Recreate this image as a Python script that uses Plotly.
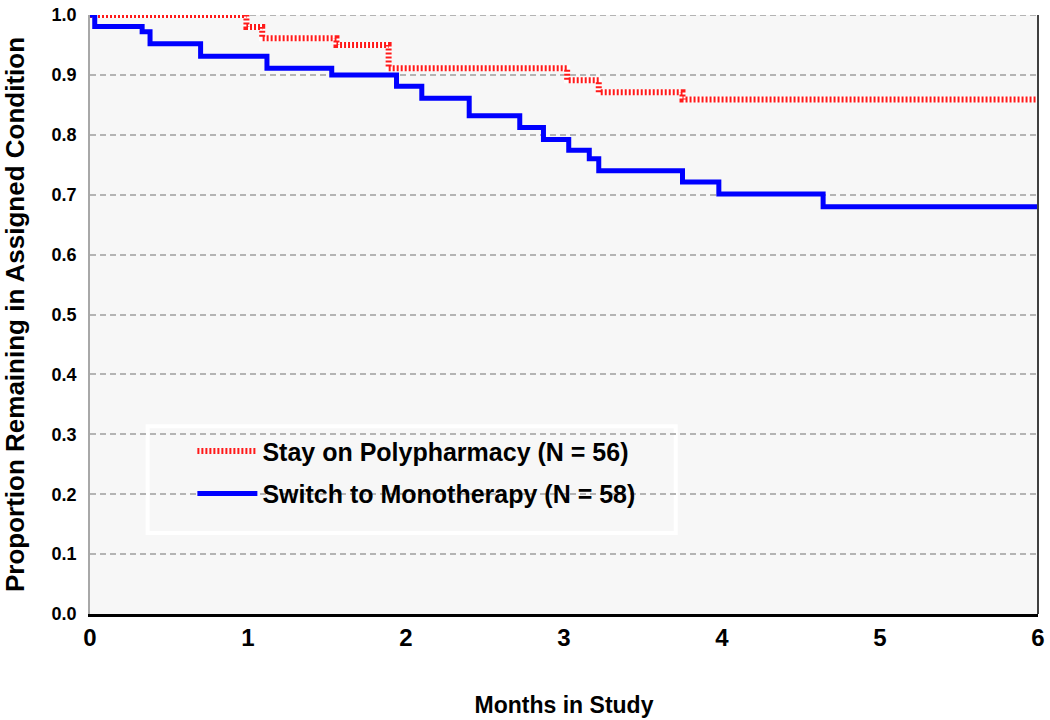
import plotly.graph_objects as go

# Kaplan-Meier style step data (month, proportion remaining)
poly_months = [0, 0.99, 1.09, 1.56, 1.89, 3.02, 3.22, 3.75, 6.0]
poly_prop = [1.0, 0.980, 0.961, 0.950, 0.911, 0.891, 0.871, 0.859, 0.859]

mono_months = [0, 0.03, 0.33, 0.38, 0.70, 1.12, 1.53, 1.94, 2.10, 2.40, 2.72,
               2.87, 3.03, 3.16, 3.22, 3.75, 3.98, 4.64, 6.0]
mono_prop = [1.0, 0.981, 0.972, 0.952, 0.931, 0.911, 0.900, 0.881, 0.861, 0.832, 0.812,
             0.792, 0.774, 0.760, 0.740, 0.721, 0.701, 0.680, 0.680]

poly_name = "Stay on Polypharmacy (N = 56)"
mono_name = "Switch to Monotherapy (N = 58)"

x_ticks = [0, 1, 2, 3, 4, 5, 6]
y_ticks = [0.0, 0.1, 0.2, 0.3, 0.4, 0.5, 0.6, 0.7, 0.8, 0.9, 1.0]

FONT = "Liberation Sans, Arial, sans-serif"
GRID = "#b4b4b4"

fig = go.Figure()
fig.add_trace(go.Scatter(x=poly_months, y=poly_prop, mode="lines", line_shape="hv",
                         line=dict(color="#ffffff", width=6), showlegend=False,
                         hoverinfo="skip"))
fig.add_trace(go.Scatter(x=poly_months, y=poly_prop, mode="lines", line_shape="hv",
                         name=poly_name, legendgroup="a",
                         line=dict(color="#ff1a1a", width=6, dash="2px,2px")))
fig.add_trace(go.Scatter(x=mono_months, y=mono_prop, mode="lines", line_shape="hv",
                         name=mono_name, legendgroup="b",
                         line=dict(color="#0000ff", width=5)))

fig.update_layout(
    width=1050, height=720,
    margin=dict(l=90, r=5, t=8, b=106),
    paper_bgcolor="white", plot_bgcolor="#f7f7f7",
    font=dict(family=FONT, color="black"),
    showlegend=True,
    legend=dict(x=0.108, y=0.3102, xanchor="left", yanchor="top",
                bgcolor="rgba(0,0,0,0)", borderwidth=0,
                font=dict(size=25, family=FONT, color="black", weight="bold"),
                tracegroupgap=7, itemwidth=60),
    xaxis=dict(range=[0, 6], tickvals=x_ticks, ticktext=[f"<b>{v}</b>" for v in x_ticks],
               tickfont=dict(size=24), showgrid=False, zeroline=False,
               showline=True, linecolor="black", linewidth=3, ticks="",
               ticklabelstandoff=0, ticklabeloverflow="allow",
               title=dict(text="<b>Months in Study</b>", font=dict(size=23), standoff=48)),
    yaxis=dict(range=[0, 1.0], tickvals=y_ticks,
               ticktext=[f"<b>{v:.1f}</b>" for v in y_ticks],
               tickfont=dict(size=18), showgrid=True, gridcolor=GRID, gridwidth=2,
               griddash="6px,4px", zeroline=False, showline=True, linecolor="#a8a8a8",
               linewidth=1.5, ticks="", ticklabelstandoff=8, ticklabeloverflow="allow",
               title=dict(text="<b>Proportion Remaining in Assigned Condition</b>",
                          font=dict(size=26), standoff=20)),
)

# legend frame
fig.add_shape(type="rect", xref="paper", yref="paper",
              x0=(148 - 90) / 955, x1=(680 - 90) / 955,
              y0=(614 - 532) / 606, y1=(614 - 424) / 606,
              fillcolor="#f7f7f7", line=dict(color="white", width=4), layer="below")
# top gridline at 1.0 (plotly drops gridlines at the range end)
fig.add_shape(type="line", xref="paper", yref="y", x0=0, x1=1, y0=1.0, y1=1.0,
              line=dict(color=GRID, width=2, dash="6px,4px"), layer="below")
# right border
fig.add_shape(type="line", xref="paper", yref="paper", x0=1, x1=1, y0=0, y1=1,
              line=dict(color="#404040", width=2))

fig.write_html("out.html", config={"displayModeBar": False},
               post_script="document.body.style.margin='0px';")
